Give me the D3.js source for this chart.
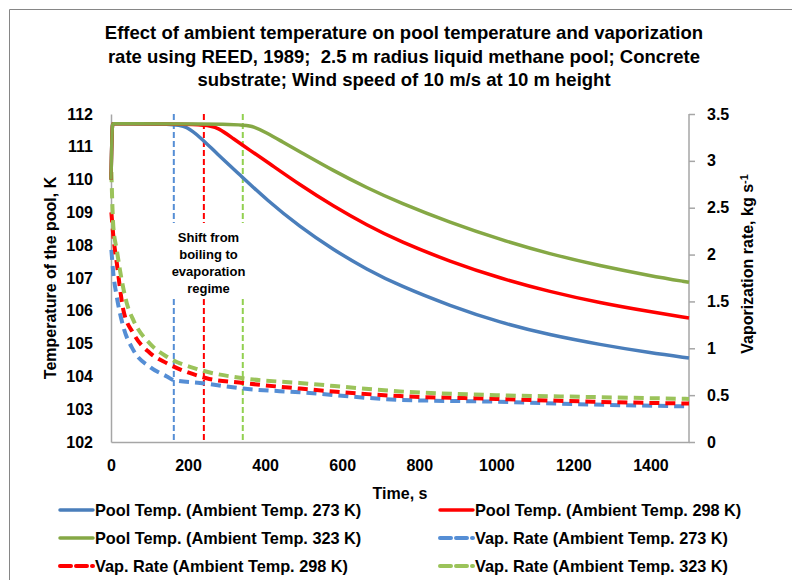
<!DOCTYPE html>
<html>
<head>
<meta charset="utf-8">
<script src="https://cdn.jsdelivr.net/npm/d3@7"></script>
<style>
  body { margin: 0; background: #fff; }
  text { font-family: "Liberation Sans", Arial, sans-serif; font-weight: bold; fill: #000; }
</style>
</head>
<body>
<div class="chart"></div>
<script>
var svgWidth = 792;
var svgHeight = 580;

var margin = { top: 114, right: 103, bottom: 138, left: 111 };
var width = svgWidth - margin.left - margin.right;
var height = svgHeight - margin.top - margin.bottom;

// ---- data ----
var titleLines = [
  "Effect of ambient temperature on pool temperature and vaporization",
  "rate using REED, 1989;  2.5 m radius liquid methane pool; Concrete",
  "substrate; Wind speed of 10 m/s at 10 m height"
];

var xTicks = [0, 200, 400, 600, 800, 1000, 1200, 1400];
var leftTicks = [102, 103, 104, 105, 106, 107, 108, 109, 110, 111, 112];
var rightTicks = [0, 0.5, 1, 1.5, 2, 2.5, 3, 3.5];

// pool temperature, K
var tempTime273 = [0, 3, 5, 8, 165, 196, 231, 274, 335, 404, 490, 577, 664, 750, 880, 1010, 1139, 1269, 1399, 1500];
var temp273 = [110.0, 111.7, 111.7, 111.7, 111.7, 111.62, 111.3, 110.8, 110.14, 109.38, 108.56, 107.86, 107.26, 106.76, 106.15, 105.64, 105.26, 104.97, 104.72, 104.56];

var tempTime298 = [0, 3, 5, 8, 245, 280, 317, 360, 404, 490, 577, 664, 750, 880, 1010, 1139, 1269, 1399, 1500];
var temp298 = [110.0, 111.7, 111.7, 111.7, 111.7, 111.57, 111.25, 110.9, 110.55, 109.84, 109.19, 108.61, 108.11, 107.5, 106.99, 106.58, 106.24, 105.97, 105.78];

var tempTime323 = [0, 3, 5, 8, 340, 370, 404, 445, 490, 577, 664, 750, 880, 1010, 1139, 1269, 1399, 1500];
var temp323 = [110.0, 111.7, 111.7, 111.7, 111.7, 111.62, 111.43, 111.15, 110.85, 110.27, 109.75, 109.29, 108.69, 108.17, 107.73, 107.37, 107.07, 106.87];

// vaporization rate, kg/s
var vapTime273 = [1, 6, 15, 32, 58, 101, 145, 163, 231, 343, 490, 750, 1000, 1250, 1500];
var vap273 = [2.05, 1.8, 1.55, 1.23, 0.98, 0.8, 0.7, 0.66, 0.63, 0.57, 0.53, 0.45, 0.43, 0.4, 0.38];

var vapTime298 = [1, 6, 15, 32, 58, 101, 145, 231, 248, 343, 490, 750, 1000, 1250, 1500];
var vap298 = [2.45, 2.2, 1.91, 1.41, 1.16, 0.95, 0.84, 0.7, 0.68, 0.63, 0.57, 0.49, 0.46, 0.43, 0.41];

var vapTime323 = [1, 6, 15, 23, 41, 58, 101, 145, 231, 343, 490, 750, 1000, 1250, 1500];
var vap323 = [2.88, 2.3, 2.05, 1.84, 1.48, 1.3, 1.05, 0.91, 0.77, 0.68, 0.63, 0.54, 0.5, 0.48, 0.46];

// time at which each pool shifts from boiling to evaporation
var shiftTimes = [163, 241, 342];
var shiftColors = ["#558ED5", "#FF0000", "#92D050"];
var shiftText = ["Shift from", "boiling to", "evaporation", "regime"];

var legendLabels = [
  "Pool Temp. (Ambient Temp. 273 K)",
  "Pool Temp. (Ambient Temp. 298 K)",
  "Pool Temp. (Ambient Temp. 323 K)",
  "Vap. Rate (Ambient Temp. 273 K)",
  "Vap. Rate (Ambient Temp. 298 K)",
  "Vap. Rate (Ambient Temp. 323 K)"
];

function zip(ts, vs) {
  return ts.map(function(t, i) { return { t: t, v: vs[i] }; });
}

var series = [
  { name: legendLabels[0], data: zip(tempTime273, temp273), axis: "left", color: "#4A7EBB", dash: null },
  { name: legendLabels[1], data: zip(tempTime298, temp298), axis: "left", color: "#FF0000", dash: null },
  { name: legendLabels[2], data: zip(tempTime323, temp323), axis: "left", color: "#85A845", dash: null },
  { name: legendLabels[3], data: zip(vapTime273, vap273), axis: "right", color: "#558ED5", dash: "10,6" },
  { name: legendLabels[4], data: zip(vapTime298, vap298), axis: "right", color: "#FF0000", dash: "10,6" },
  { name: legendLabels[5], data: zip(vapTime323, vap323), axis: "right", color: "#9BC35A", dash: "10,6" }
];

var svg = d3.select(".chart")
  .append("svg")
  .attr("width", svgWidth)
  .attr("height", svgHeight);

// chart frame (only top and left edges are inside the picture)
svg.append("path")
  .attr("d", "M9.5," + svgHeight + "V9.5H" + svgWidth)
  .attr("fill", "none")
  .attr("stroke", "#868686")
  .attr("stroke-width", 1);

// title
svg.append("g").selectAll("text")
  .data(titleLines)
  .enter()
  .append("text")
  .attr("x", 404)
  .attr("y", (d, i) => 33 + i * 23.5)
  .attr("dy", "0.35em")
  .attr("text-anchor", "middle")
  .style("font-size", "18.5px")
  .style("white-space", "pre")
  .text(d => d);

var chartGroup = svg.append("g")
  .attr("transform", `translate(${margin.left}, ${margin.top})`);

var xScale = d3.scaleLinear().domain([0, 1500]).range([0, width]);
var yLeft = d3.scaleLinear().domain([102, 112]).range([height, 0]);
var yRight = d3.scaleLinear().domain([0, 3.5]).range([height, 0]);

// axes
var bottomAxis = d3.axisBottom(xScale).tickValues(xTicks).tickSize(0).tickPadding(18).tickFormat(d3.format("d"));
var leftAxis = d3.axisLeft(yLeft).tickValues(leftTicks).tickSize(0).tickPadding(18).tickFormat(d3.format("d"));
var rightAxis = d3.axisRight(yRight).tickValues(rightTicks).tickSize(6).tickPadding(12).tickFormat(d3.format(""));

function styleAxis(g) {
  g.select(".domain").attr("stroke", "#A6A6A6").attr("stroke-width", 1.5);
  g.selectAll(".tick line").attr("stroke", "#A6A6A6").attr("stroke-width", 1.5);
  g.selectAll("text").style("font-size", "16px").style("font-family", "Liberation Sans, Arial, sans-serif").style("font-weight", "bold");
}

chartGroup.append("g")
  .attr("transform", `translate(0, ${height})`)
  .call(bottomAxis)
  .call(styleAxis);

chartGroup.append("g")
  .call(leftAxis)
  .call(styleAxis);

chartGroup.append("g")
  .attr("transform", `translate(${width}, 0)`)
  .call(rightAxis)
  .call(styleAxis)
  .call(g => g.select(".domain").attr("d", `M0,0V${height}`));

// vertical shift markers, broken around the annotation
var gapTop = yLeft(108.68);
var gapBottom = yLeft(106.36);
shiftTimes.forEach(function(t, i) {
  [[0, gapTop], [gapBottom, height]].forEach(function(seg) {
    chartGroup.append("line")
      .attr("x1", xScale(t)).attr("x2", xScale(t))
      .attr("y1", seg[0]).attr("y2", seg[1])
      .attr("stroke", shiftColors[i])
      .attr("stroke-width", 2)
      .attr("stroke-dasharray", "6,3");
  });
});

chartGroup.append("g").selectAll("text")
  .data(shiftText)
  .enter()
  .append("text")
  .attr("x", xScale(253))
  .attr("y", (d, i) => gapTop + 15 + i * 17)
  .attr("dy", "0.35em")
  .attr("text-anchor", "middle")
  .style("font-size", "13px")
  .text(d => d);

// series lines
var lineLeft = d3.line()
  .x(d => xScale(d.t))
  .y(d => yLeft(d.v))
  .curve(d3.curveBasis);

var lineRight = d3.line()
  .x(d => xScale(d.t))
  .y(d => yRight(d.v))
  .curve(d3.curveMonotoneX);

var drawOrder = [3, 4, 5, 0, 1, 2];
drawOrder.forEach(function(k) {
  var s = series[k];
  chartGroup.append("path")
    .datum(s.data)
    .attr("fill", "none")
    .attr("stroke", s.color)
    .attr("stroke-width", s.dash ? 4 : 3.5)
    .attr("stroke-dasharray", s.dash)
    .attr("stroke-linejoin", "round")
    .attr("d", s.axis === "left" ? lineLeft : lineRight);
});

// axis titles
svg.append("text")
  .attr("x", margin.left + width / 2)
  .attr("y", 493)
  .attr("dy", "0.35em")
  .attr("text-anchor", "middle")
  .style("font-size", "16px")
  .text("Time, s");

svg.append("text")
  .attr("transform", `translate(50, ${margin.top + height / 2}) rotate(-90)`)
  .attr("dy", "0.35em")
  .attr("text-anchor", "middle")
  .style("font-size", "16px")
  .text("Temperature of the pool, K");

var rightTitle = svg.append("text")
  .attr("transform", `translate(747, 264) rotate(-90)`)
  .attr("dy", "0.35em")
  .attr("text-anchor", "middle")
  .style("font-size", "16px");
rightTitle.append("tspan").text("Vaporization rate, kg s");
rightTitle.append("tspan").attr("dy", "-0.45em").style("font-size", "11px").text("-1");

// legend: two columns, three rows
var legend = svg.append("g");
series.forEach(function(s, i) {
  var col = i % 2;
  var row = Math.floor(i / 2);
  var lx = col === 0 ? 60 : 440;
  var ly = 510 + row * 28;
  legend.append("line")
    .attr("x1", lx).attr("x2", lx + 33)
    .attr("y1", ly).attr("y2", ly)
    .attr("stroke", s.color)
    .attr("stroke-width", s.dash ? 4 : 3.5)
    .attr("stroke-dasharray", s.dash ? "11,5" : null)
    .attr("stroke-linecap", "round");
  legend.append("text")
    .attr("x", lx + 35)
    .attr("y", ly)
    .attr("dy", "0.35em")
    .style("font-size", "16.3px")
    .text(s.name);
});
</script>
</body>
</html>
